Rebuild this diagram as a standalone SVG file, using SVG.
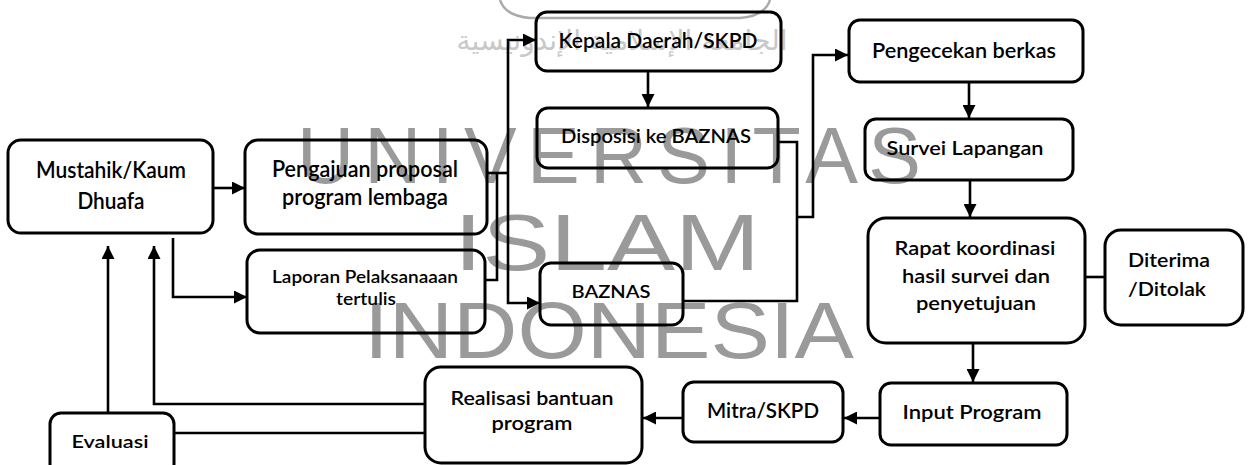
<svg xmlns="http://www.w3.org/2000/svg" width="1249" height="465" viewBox="0 0 1249 465">
<style>
.box{fill:none;stroke:#000;stroke-width:3}
.ln{fill:none;stroke:#000;stroke-width:2.6}
.t{font-family:Lato,"Open Sans","Liberation Sans",sans-serif;font-weight:600;fill:#000;text-anchor:middle}
.wm{font-family:"Liberation Sans",Arial,sans-serif;fill:#9a9a9a;font-size:79px}
</style>
<defs>
<marker id="arr" markerUnits="userSpaceOnUse" markerWidth="13" markerHeight="13" refX="13" refY="6.5" orient="auto">
<path d="M0,0 L13,6.5 L0,13 z" fill="#000"/>
</marker>
</defs>
<rect width="1249" height="465" fill="#fff"/>
<g id="watermark">
<path d="M500,0 Q505,16 530,18 L740,18 Q765,16 770,0" fill="none" stroke="#aaa" stroke-width="2.5"/>
<text x="622" y="50" font-family="'DejaVu Sans',sans-serif" font-size="28" fill="#c8c8c8" text-anchor="middle">الجامعة الإسلامية الإندونيسية</text>
<text class="wm" x="297" y="183" textLength="624" lengthAdjust="spacing">UNIVERSITAS</text>
<text class="wm" x="454" y="270" textLength="306" lengthAdjust="spacingAndGlyphs">ISLAM</text>
<text class="wm" x="364" y="358" textLength="490" lengthAdjust="spacingAndGlyphs">INDONESIA</text>
</g>
<g id="connectors">
<path class="ln" d="M213,188 H245" marker-end="url(#arr)"/>
<path class="ln" d="M173,238 V297 H247" marker-end="url(#arr)"/>
<path class="ln" d="M487,173 H508"/>
<path class="ln" d="M485,280 H497 V173"/>
<path class="ln" d="M508,173 V40 H536" marker-end="url(#arr)"/>
<path class="ln" d="M508,173 V303 H540" marker-end="url(#arr)"/>
<path class="ln" d="M648,71 V107" marker-end="url(#arr)"/>
<path class="ln" d="M778,142 H797 V301 H683"/>
<path class="ln" d="M797,217 H813 V55 H848" marker-end="url(#arr)"/>
<path class="ln" d="M969,82 V118" marker-end="url(#arr)"/>
<path class="ln" d="M970,180 V217" marker-end="url(#arr)"/>
<path class="ln" d="M1085,277 H1105"/>
<path class="ln" d="M973,343 V382" marker-end="url(#arr)"/>
<path class="ln" d="M880,418 H844" marker-end="url(#arr)"/>
<path class="ln" d="M683,418 H643" marker-end="url(#arr)"/>
<path class="ln" d="M425,404 H154 V246" marker-end="url(#arr)"/>
<path class="ln" d="M108,413 V246" marker-end="url(#arr)"/>
<path class="ln" d="M174,433 H425"/>
</g>
<g id="mustahik">
<rect class="box" x="8" y="140" width="205" height="93" rx="13"/>
<text class="t" x="111" y="178" font-size="22" textLength="150" lengthAdjust="spacingAndGlyphs">Mustahik/Kaum</text>
<text class="t" x="111" y="209" font-size="22" textLength="67" lengthAdjust="spacingAndGlyphs">Dhuafa</text>
</g>
<g id="pengajuan">
<rect class="box" x="245" y="140" width="242" height="94" rx="13"/>
<text class="t" x="365" y="177" font-size="22" textLength="186" lengthAdjust="spacingAndGlyphs">Pengajuan proposal</text>
<text class="t" x="365" y="205" font-size="22" textLength="166" lengthAdjust="spacingAndGlyphs">program lembaga</text>
</g>
<g id="laporan">
<rect class="box" x="247" y="250" width="238" height="83" rx="13"/>
<text class="t" x="365" y="283" font-size="18" textLength="186" lengthAdjust="spacingAndGlyphs">Laporan Pelaksanaaan</text>
<text class="t" x="366" y="305" font-size="18" textLength="60" lengthAdjust="spacingAndGlyphs">tertulis</text>
</g>
<g id="kepala">
<rect class="box" x="536" y="12" width="245" height="59" rx="11"/>
<text class="t" x="658" y="48" font-size="21" textLength="199" lengthAdjust="spacingAndGlyphs">Kepala Daerah/SKPD</text>
</g>
<g id="disposisi">
<rect class="box" x="537" y="108" width="241" height="60" rx="11"/>
<text class="t" x="656" y="143" font-size="20" textLength="190" lengthAdjust="spacingAndGlyphs">Disposisi ke BAZNAS</text>
</g>
<g id="baznas">
<rect class="box" x="540" y="263" width="143" height="62" rx="11"/>
<text class="t" x="611" y="298" font-size="18" textLength="79" lengthAdjust="spacingAndGlyphs">BAZNAS</text>
</g>
<g id="pengecekan">
<rect class="box" x="849" y="20" width="234" height="62" rx="11"/>
<text class="t" x="964" y="58" font-size="21" textLength="184" lengthAdjust="spacingAndGlyphs">Pengecekan berkas</text>
</g>
<g id="survei">
<rect class="box" x="865" y="119" width="208" height="61" rx="11"/>
<text class="t" x="965" y="155" font-size="20" textLength="157" lengthAdjust="spacingAndGlyphs">Survei Lapangan</text>
</g>
<g id="rapat">
<rect class="box" x="868" y="218" width="217" height="125" rx="18"/>
<text class="t" x="975" y="255" font-size="20" textLength="161" lengthAdjust="spacingAndGlyphs">Rapat koordinasi</text>
<text class="t" x="976" y="283" font-size="20" textLength="148" lengthAdjust="spacingAndGlyphs">hasil survei dan</text>
<text class="t" x="976" y="310" font-size="20" textLength="120" lengthAdjust="spacingAndGlyphs">penyetujuan</text>
</g>
<g id="diterima">
<rect class="box" x="1105" y="230" width="138" height="95" rx="16"/>
<text class="t" x="1169" y="267" font-size="20" textLength="82" lengthAdjust="spacingAndGlyphs">Diterima</text>
<text class="t" x="1167" y="296" font-size="20" textLength="78" lengthAdjust="spacingAndGlyphs">/Ditolak</text>
</g>
<g id="input">
<rect class="box" x="880" y="383" width="187" height="62" rx="11"/>
<text class="t" x="972" y="419" font-size="20" textLength="139" lengthAdjust="spacingAndGlyphs">Input Program</text>
</g>
<g id="mitra">
<rect class="box" x="683" y="382" width="160" height="60" rx="11"/>
<text class="t" x="763" y="418" font-size="21" textLength="112" lengthAdjust="spacingAndGlyphs">Mitra/SKPD</text>
</g>
<g id="realisasi">
<rect class="box" x="425" y="367" width="217" height="96" rx="16"/>
<text class="t" x="532" y="405" font-size="19" textLength="163" lengthAdjust="spacingAndGlyphs">Realisasi bantuan</text>
<text class="t" x="532" y="430" font-size="19" textLength="81" lengthAdjust="spacingAndGlyphs">program</text>
</g>
<g id="evaluasi">
<rect class="box" x="50" y="413" width="124" height="62" rx="11"/>
<text class="t" x="110" y="448" font-size="17" textLength="77" lengthAdjust="spacingAndGlyphs">Evaluasi</text>
</g>
</svg>
